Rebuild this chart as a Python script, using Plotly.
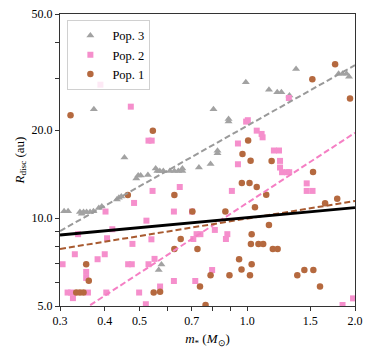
import plotly.graph_objects as go

# stellar mass (M_sun) and disc radius (au) for each population
pop3_mass = [0.308, 0.316, 0.341, 0.345, 0.349, 0.356, 0.364, 0.372, 0.385, 0.3925,
             0.4325, 0.438, 0.445, 0.454, 0.49, 0.496, 0.504, 0.528, 0.555, 0.561,
             0.57, 0.583, 0.608, 0.626, 0.642, 0.659, 0.659, 0.733, 0.79, 0.373,
             0.805, 0.887, 0.887, 0.991, 0.826, 0.826, 1.369, 1.15, 1.213, 1.246,
             1.312, 1.8, 1.846, 1.894, 1.925, 0.576, 0.566]
pop3_rdisc = [10.55, 10.55, 10.5, 10.34, 10.5, 10.5, 10.5, 10.55, 10.83, 10.96,
              11.59, 11.73, 11.86, 16.13, 13.67, 13.99, 13.99, 14.05, 14.8, 14.5,
              14.5, 14.5, 14.5, 14.5, 14.5, 14.8, 14.5, 14.9, 15.33, 23.6,
              23.6, 21.85, 21.44, 29.2, 17.0, 16.68, 32.4, 27.5, 27.0, 27.0,
              26.3, 31.2, 31.2, 31.2, 30.5, 6.94, 6.64]

pop2_mass = [0.389, 0.473, 0.530, 0.541, 0.993, 1.004, 1.063, 1.097, 1.104, 0.942,
             0.942, 1.187, 1.227, 1.235, 1.235, 1.251, 1.291, 1.31, 1.307, 1.466,
             1.466, 1.522, 1.846, 1.975, 0.906, 0.648, 0.544, 0.483, 0.402, 0.624,
             0.701, 0.523, 0.42, 0.337, 0.812, 0.88, 0.872, 0.722, 0.74, 0.707,
             0.54, 0.478, 0.33, 0.4, 0.382, 0.551, 0.305, 0.465, 0.476, 0.53,
             0.355, 0.355, 0.798, 0.624, 0.716, 0.571, 0.315, 0.322, 0.359, 0.404,
             0.499, 0.326, 0.521, 0.406]
pop2_rdisc = [28.64, 24.08, 18.42, 18.42, 21.4, 21.64, 19.93, 19.42, 18.91, 18.01,
              15.29, 17.04, 17.04, 15.7, 14.9, 14.36, 14.36, 14.36, 25.78, 13.15,
              12.39, 12.39, 5.04, 5.31, 12.39, 12.78, 12.39, 11.27, 10.53, 10.53,
              10.53, 9.8, 9.16, 8.81, 9.11, 8.81, 8.48, 8.81, 8.81, 8.48,
              8.46, 8.16, 7.52, 7.52, 7.23, 7.25, 6.95, 6.95, 6.95, 6.95,
              6.54, 6.24, 6.64, 6.09, 6.09, 5.83, 5.56, 5.56, 5.56, 5.56,
              5.56, 5.32, 5.07, 8.53]

pop1_mass = [0.321, 0.545, 1.006, 0.97, 1.022, 0.966, 1.015, 1.063, 0.464, 0.626,
             1.76, 1.52, 1.937, 1.17, 1.527, 1.13, 1.051, 0.869, 1.65, 1.784,
             1.15, 1.029, 1.024, 1.075, 1.108, 1.179, 1.216, 0.949, 1.029, 0.964,
             0.79, 0.892, 1.018, 1.38, 1.444, 1.53, 1.597, 0.738, 0.765, 0.703,
             0.652, 0.726, 0.626, 0.571, 0.355, 0.361, 0.333, 0.341, 0.349, 0.548]
pop1_rdisc = [22.5, 19.92, 18.45, 16.58, 15.73, 13.2, 13.2, 12.78, 12.0, 12.0,
              33.66, 29.9, 25.7, 15.7, 14.39, 12.02, 10.89, 10.53, 11.25, 11.64,
              9.47, 8.81, 8.16, 8.16, 8.16, 7.84, 7.84, 7.23, 6.95, 6.67,
              6.37, 6.37, 6.37, 6.37, 6.64, 6.64, 5.83, 5.83, 5.04, 10.53,
              8.48, 7.84, 7.84, 5.59, 6.95, 6.1, 5.56, 5.56, 5.56, 5.56]

# power-law fits, evaluated at the ends of the mass range
fit_mass = [0.3, 2.0]
fit_pop3 = [9.03, 33.4]
fit_pop2 = [4.31, 19.6]
fit_pop1 = [7.84, 11.44]
fit_all = [8.75, 10.86]

x_ticks = [0.3, 0.4, 0.5, 0.6, 0.7, 0.8, 0.9, 1.0, 1.5, 2.0]
x_labels = ['0.3', '0.4', '0.5', '', '0.7', '', '', '1.0', '1.5', '2.0']
y_ticks = [5, 6, 7, 8, 9, 10, 20, 30, 40, 50]
y_labels = ['5.0', '', '', '', '', '10.0', '20.0', '', '', '50.0']

grey = '#a2a2a2'
pink = '#f58fcc'
brown = '#b5693f'
font = 'Liberation Serif'

fig = go.Figure()

# scatter points
fig.add_trace(go.Scatter(x=pop3_mass, y=pop3_rdisc, mode='markers', name='Pop. 3',
                         marker=dict(symbol='triangle-up', size=7, color=grey)))
fig.add_trace(go.Scatter(x=pop2_mass, y=pop2_rdisc, mode='markers', name='Pop. 2',
                         marker=dict(symbol='square', size=6, color=pink)))
fig.add_trace(go.Scatter(x=pop1_mass, y=pop1_rdisc, mode='markers', name='Pop. 1',
                         marker=dict(symbol='circle', size=6.5, color=brown)))

# fit lines
fig.add_trace(go.Scatter(x=fit_mass, y=fit_pop3, mode='lines', showlegend=False,
                         line=dict(color='#9a9a9a', width=2, dash='6px,3px')))
fig.add_trace(go.Scatter(x=fit_mass, y=fit_pop2, mode='lines', showlegend=False,
                         line=dict(color='#f57fc4', width=2, dash='6px,3px')))
fig.add_trace(go.Scatter(x=fit_mass, y=fit_pop1, mode='lines', showlegend=False,
                         line=dict(color='#a85a30', width=2, dash='6px,3px')))
fig.add_trace(go.Scatter(x=fit_mass, y=fit_all, mode='lines', showlegend=False,
                         line=dict(color='black', width=2.8)))

axis_style = dict(type='log', showgrid=False, zeroline=False, showline=True,
                  linecolor='#333', linewidth=1, mirror=True, automargin=False,
                  ticks='outside', ticklen=4, tickwidth=1, tickcolor='#333',
                  tickfont=dict(family=font, size=12, color='black'))

fig.update_layout(
    width=373, height=356,
    margin=dict(l=60, r=18, t=14, b=50),
    plot_bgcolor='white', paper_bgcolor='white',
    font=dict(family=font, size=12, color='black'),
    xaxis=dict(range=[-0.5229, 0.30103], tickvals=x_ticks, ticktext=x_labels,
               title=dict(text='<i>m</i><sub>*</sub> (<i>M</i><sub>⊙</sub>)',
                          font=dict(family=font, size=13), standoff=6),
               **axis_style),
    yaxis=dict(range=[0.69897, 1.69897], tickvals=y_ticks, ticktext=y_labels,
               title=dict(text='<i>R</i><sub>disc</sub> (au)',
                          font=dict(family=font, size=13), standoff=4),
               **axis_style),
    legend=dict(x=0.025, y=0.98, xanchor='left', yanchor='top',
                bgcolor='rgba(255,255,255,0.8)', bordercolor='#d0d0d0', borderwidth=1,
                font=dict(family=font, size=12.5), itemwidth=34, tracegroupgap=0),
)

# drop the default page margin so the figure sits at the window corner
fig.write_html("out.html", config={'displayModeBar': False},
               post_script="document.body.style.margin='0px';")
